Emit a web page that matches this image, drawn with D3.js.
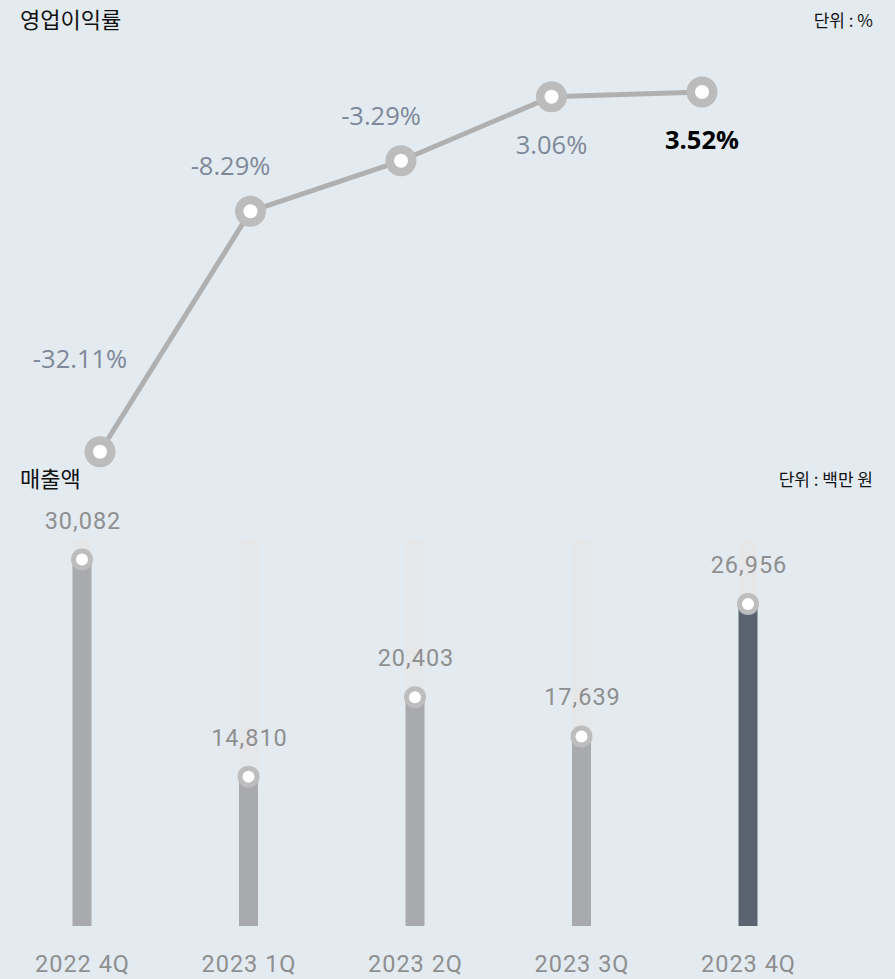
<!DOCTYPE html>
<html>
<head>
<meta charset="utf-8">
<script src="https://cdn.jsdelivr.net/npm/d3@7"></script>
<style>
  html, body { margin: 0; padding: 0; background: #e3ebf1; }
  svg { display: block; }
</style>
</head>
<body>
<svg id="chart" width="895" height="979"></svg>
<script>
// Quarterly operating margin (%) and revenue (KRW million)
const quarters = ["2022 4Q", "2023 1Q", "2023 2Q", "2023 3Q", "2023 4Q"];
const operatingMargin = [-32.11, -8.29, -3.29, 3.06, 3.52];
const revenue = [30082, 14810, 20403, 17639, 26956];
const marginDomain = [-36, 6];
const revenueDomain = [4300, 31600];
const titles = { margin: "영업이익률", revenue: "매출액" };
const units = { margin: "단위 : %", revenue: "단위 : 백만 원" };

const svg = d3.select("#chart");
const W = 895;
const krFont = "'Noto Sans CJK KR', 'Noto Sans', sans-serif";
const numFont = "Roboto, sans-serif";

// ---- section headings ----
function heading(y, title, unit) {
  svg.append("text").attr("x", 20).attr("y", y)
    .attr("font-family", krFont).attr("font-size", 22).attr("fill", "#111")
    .text(title);
  svg.append("text").attr("x", W - 22).attr("y", y - 1)
    .attr("text-anchor", "end")
    .attr("font-family", krFont).attr("font-size", 17).attr("fill", "#111")
    .text(unit);
}
heading(28, titles.margin, units.margin);
heading(487, titles.revenue, units.revenue);

// ---- operating margin line ----
const xLine = d3.scalePoint().domain(quarters).range([100, 702]);
const yLine = d3.scaleLinear().domain(marginDomain).range([491, 67]);
const marginData = quarters.map((q, i) => ({ q, v: operatingMargin[i], i }));
const last = marginData.length - 1;

const lineG = svg.append("g");
lineG.append("path")
  .datum(marginData)
  .attr("fill", "none")
  .attr("stroke", "#b0b0b0")
  .attr("stroke-width", 5)
  .attr("stroke-linejoin", "round")
  .attr("d", d3.line().x(d => xLine(d.q)).y(d => yLine(d.v)));

const pts = lineG.selectAll(".pt").data(marginData).join("g")
  .attr("transform", d => `translate(${xLine(d.q)},${yLine(d.v)})`);
pts.append("circle").attr("r", 15.5).attr("fill", "#bcbcbc");
pts.append("circle").attr("r", 7).attr("fill", "#fff");

// negative values sit above-left of their point, positive ones below
lineG.selectAll(".lbl").data(marginData).join("text")
  .attr("x", d => xLine(d.q) + (d.v < 0 ? -20 : 0))
  .attr("y", d => yLine(d.v) + (d.i === 0 ? -84 : d.v < 0 ? -36 : 57))
  .attr("text-anchor", "middle")
  .attr("font-family", "'Open Sans', 'Noto Sans', sans-serif")
  .attr("font-size", 25.5)
  .attr("font-weight", d => d.i === last ? 700 : 400)
  .attr("fill", d => d.i === last ? "#000" : "#7f8899")
  .text(d => d.v.toFixed(2) + "%");

// ---- revenue bars ----
const xBar = d3.scalePoint().domain(quarters).range([82, 748]);
const yBar = d3.scaleLinear().domain(revenueDomain).range([926, 538]);
const barW = 19;
const revData = quarters.map((q, i) => ({ q, v: revenue[i], i }));

const barG = svg.append("g");
// background tracks
barG.selectAll(".track").data(revData).join("rect")
  .attr("x", d => xBar(d.q) - barW / 2)
  .attr("y", yBar(revenueDomain[1]))
  .attr("width", barW)
  .attr("height", yBar(revenueDomain[0]) - yBar(revenueDomain[1]))
  .attr("rx", barW / 2)
  .attr("fill", "#e6e7e9");
// bars
barG.selectAll(".bar").data(revData).join("rect")
  .attr("x", d => xBar(d.q) - barW / 2)
  .attr("y", d => yBar(d.v))
  .attr("width", barW)
  .attr("height", d => yBar(revenueDomain[0]) - yBar(d.v))
  .attr("fill", d => d.i === last ? "#5a6470" : "#a9aaae");
// markers
const bm = barG.selectAll(".bm").data(revData).join("g")
  .attr("transform", d => `translate(${xBar(d.q)},${yBar(d.v)})`);
bm.append("circle").attr("r", 11).attr("fill", "#bdbdbd");
bm.append("circle").attr("r", 6).attr("fill", "#fff");
// value labels
barG.selectAll(".val").data(revData).join("text")
  .attr("x", d => xBar(d.q) + 1)
  .attr("y", d => yBar(d.v) - 31)
  .attr("text-anchor", "middle")
  .attr("font-family", numFont)
  .attr("font-size", 23.5)
  .attr("letter-spacing", 1)
  .attr("fill", "#8f8f8f")
  .text(d => d3.format(",")(d.v));

// category axis
const axis = svg.append("g")
  .attr("transform", "translate(0,952)")
  .call(d3.axisBottom(xBar).tickSize(0).tickPadding(3));
axis.select(".domain").remove();
axis.selectAll("text")
  .attr("font-family", numFont)
  .attr("font-size", 23.5)
  .attr("letter-spacing", 1)
  .attr("fill", "#8f8f8f");
</script>
</body>
</html>
